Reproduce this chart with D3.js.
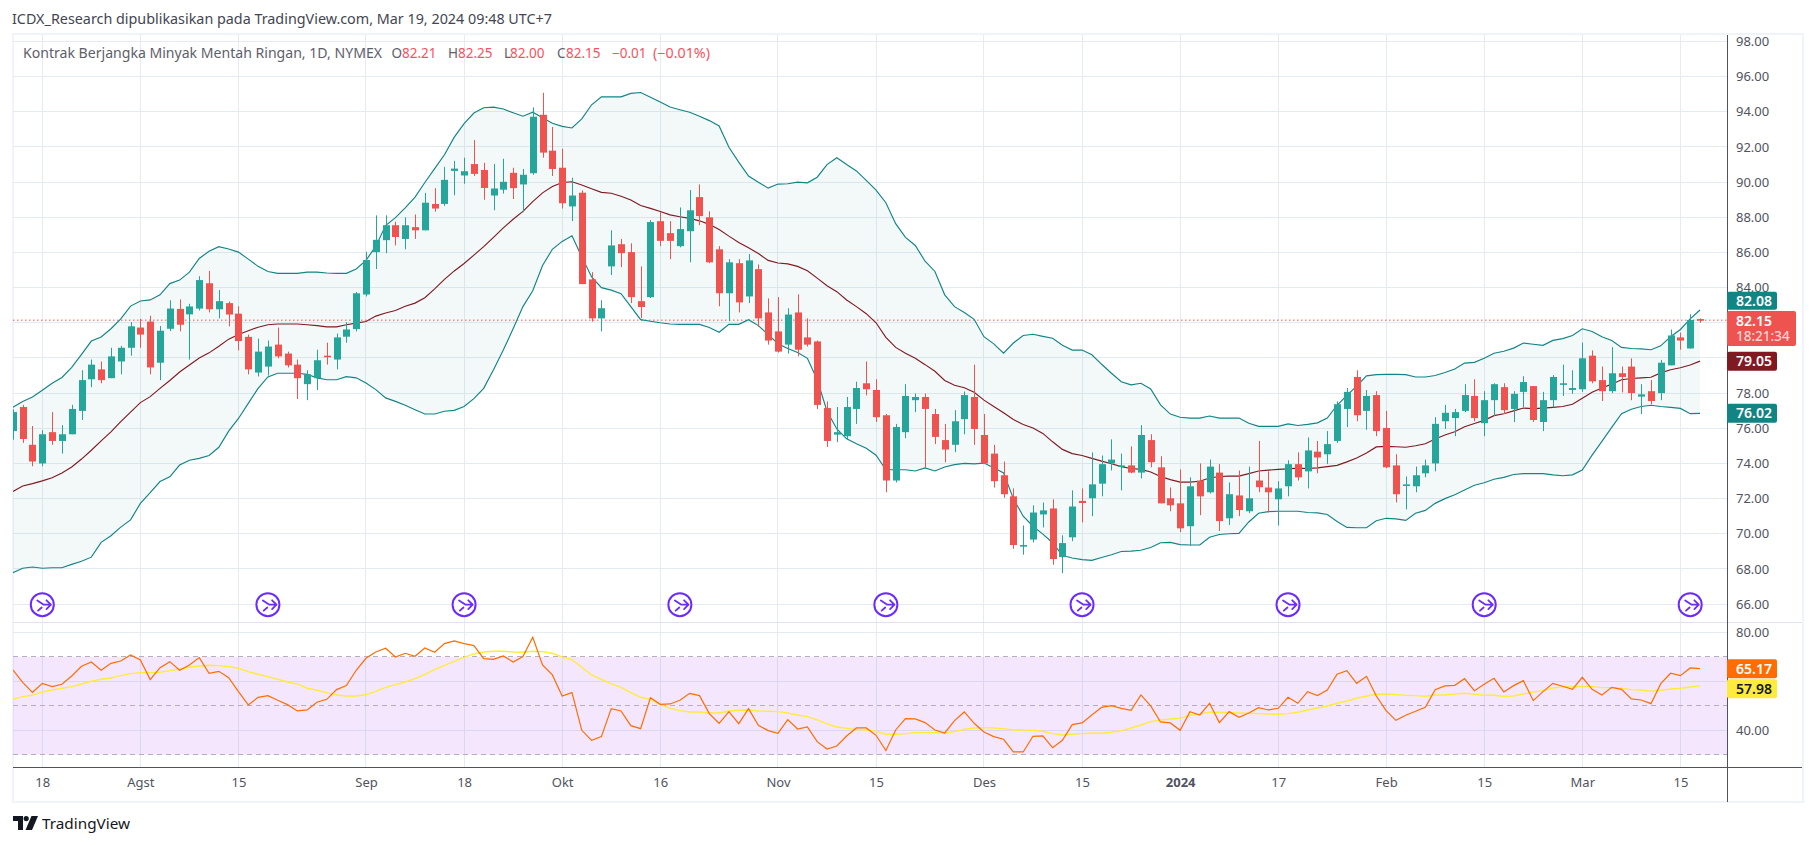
<!DOCTYPE html>
<html><head><meta charset="utf-8">
<script src="https://cdn.jsdelivr.net/npm/d3@7"></script>
<style>html,body{margin:0;padding:0;background:#fff}svg{display:block}text{font-family:"Noto Sans",sans-serif}</style>
</head><body><div id="c"></div>
<script>
const titleText="ICDX_Research dipublikasikan pada TradingView.com, Mar 19, 2024 09:48 UTC+7";
const open=[75.84,77.21,75.06,74,75.78,75.28,75.66,76.99,78.79,79.35,
78.85,79.8,80.58,81.73,82.07,79.73,81.66,82.79,82.48,82.81,
84.25,82.77,83.12,82.52,81.2,79.17,79.51,80.76,80.25,79.62,
78.51,78.85,80.13,79.91,81.21,81.64,83.61,86.02,86.7,87.55,
86.77,87.44,87.26,88.76,88.76,90.64,90.38,91.03,90.69,89.24,
89.57,90.53,89.87,90.51,93.83,91.79,90.82,88.62,89.4,84.47,
82.25,85.21,86.47,86.02,83.23,83.46,87.78,87.1,86.36,87.21,
89.15,88,86.18,83.68,85.39,83.5,85.05,82.59,81.51,80.76,
82.59,81.17,80.94,77.15,75.64,75.55,77.1,78.56,78.18,76.74,
73.03,75.78,77.6,77.78,76.81,75.33,75.06,76.52,77.78,75.62,
74.56,73.33,72.13,69.28,69.67,71.1,71.44,68.67,69.8,71.87,
72.02,72.85,74,73.84,73.89,73.48,75.33,73.78,72.02,71.73,
70.43,73.03,72.36,73.48,70.88,72.18,71.28,73.03,72.63,71.96,
72.7,73.96,73.55,74.67,74.52,75.28,77.1,78.92,76.99,77.89,
76.02,73.89,72.76,72.7,73.44,74,76.4,76.58,76.99,77.84,
76.29,77.6,78.34,77.1,78.07,78.4,76.36,77.6,78.47,78.18,
78.22,80.13,78.74,78.11,79.13,79.51,77.8,78.11,78,79.58,
81.17,80.54,82.21];
const high=[77.08,77.33,76.13,75.89,76.92,76.18,77.33,79.3,79.91,79.8,
80.58,80.69,82.04,82.22,82.4,81.82,83.28,83.33,83.08,84.65,
84.95,83.86,83.21,82.94,81.33,81.1,80.99,81.73,80.36,79.91,
79.3,80.47,80.87,81.39,82.04,83.75,86.05,88.11,88.11,87.75,
88,88.16,89.39,89.66,90.87,91.21,91.39,92.4,91.1,91.03,
91.33,90.82,90.75,94.25,95.08,93.14,91.9,90.25,89.53,84.88,
83.28,87.26,86.77,86.52,85.21,87.84,88.29,87.78,88.56,89.55,
89.87,88.34,86.36,85.62,85.62,85.91,85.32,83.39,83.46,82.83,
83.62,82.25,80.99,77.53,77.21,77.78,78.65,79.8,78.79,76.81,
76.25,78.51,77.98,77.98,77.1,76.25,77.03,78.09,79.62,76.81,
75.06,74.11,72.58,70.47,71.62,71.78,71.96,69.91,72.47,72.58,
74.63,74.45,75.37,74.56,74.97,76.18,75.66,74.41,72.63,73.66,
73.21,74,74.22,73.96,72.92,73.6,73.82,75.28,73.55,72.99,
74.18,74.63,75.48,75.28,75.84,77.53,78.29,79.3,78.18,78.11,
76.99,74.52,73.26,73.82,74.22,76.63,77.33,77.1,78.51,78.79,
78.11,78.56,78.56,78.11,78.96,78.4,78.07,79.03,79.62,79.3,
80.87,80.43,79.51,80.62,79.51,79.98,78.51,78.74,79.89,81.62,
81.44,82.49,82.25];
const low=[75.35,75.17,73.84,73.84,75.06,74.56,75.66,76.47,78.34,78.56,
78.85,79.07,80.13,80.58,79.07,78.74,81.53,81.51,79.91,82.7,
82.59,82.25,81.8,80.43,79.07,78.95,79,79.98,79.46,77.67,
77.6,78.18,79.62,79.35,80.87,81.51,83.5,85.06,85.96,86.4,
86.18,86.77,87.26,88.32,88.65,89.25,89.91,90.35,89,88.4,
89.35,89.04,88.29,90.42,91.39,90.35,88.5,87.78,84.2,82.07,
81.51,84.72,85.17,83.12,82.27,83.41,86.36,85.62,86.29,85.44,
87.55,85.39,82.94,82.09,82.59,83.12,81.77,80.76,80.31,80.25,
80.09,80.65,77.1,74.94,75.21,75.35,76.25,77.87,76.36,72.36,
72.92,75.44,76.92,73.73,75.1,74.07,74.64,75.66,75.06,73.96,
72.63,72.05,69.14,68.81,69.51,70.36,68.24,67.76,69.58,70.65,
71,72.13,73.6,72.47,73.44,73.15,73.78,71.73,71.28,70.09,
69.31,71.06,72.29,70.16,70.5,71,71.17,72.36,71.21,70.47,
72.13,73.03,72.58,73.44,73.96,75.17,76.07,76.4,75.91,75.55,
73.73,71.78,71.39,72.36,73.21,73.55,75.96,75.55,76.92,76.4,
75.55,76.7,76.81,76.36,77.21,76.36,75.84,77.19,77.84,77.96,
78.07,78.56,77.55,78,78.04,77.6,76.81,77.37,77.6,79.58,
80.47,80.54,82];
const close=[76.92,75.39,74.11,75.66,75.28,75.66,77.1,78.74,79.62,78.74,
80.09,80.58,81.8,81.33,79.46,81.55,82.81,81.89,82.93,84.43,
82.77,83.23,82.47,80.96,79.35,80.36,80.65,80.09,79.58,78.85,
79.07,79.87,80.09,81.17,81.62,83.68,85.57,86.72,87.55,86.88,
87.55,87.26,88.83,88.5,90.13,90.77,90.62,90.47,89.67,89.64,
90.02,89.66,90.42,93.72,91.68,90.75,88.8,89.24,84.2,82.25,
82.83,86.4,85.96,83.46,82.9,87.73,86.66,86.66,87.33,88.4,
88.07,85.44,83.68,85.44,83.16,85.55,82.25,80.99,80.36,82.47,
80.47,80.76,77.33,75.28,75.78,77.21,78.29,78.22,76.63,73.03,
76.07,77.84,77.78,77.1,75.51,74.79,76.4,77.89,75.96,74,
72.99,72.25,69.36,69.36,71.21,71.33,68.56,69.47,71.55,71.75,
72.81,73.96,74.22,73.89,73.48,75.62,74.07,71.73,71.62,70.31,
72.7,72.13,73.82,70.72,72.25,71.35,72.02,72.65,72.36,72.58,
73.96,73.21,74.74,74.34,75.1,77.37,78.07,76.74,77.84,75.84,
73.78,72.25,72.81,73.33,73.89,76.25,76.88,76.92,77.89,76.58,
77.6,78.51,77.03,77.96,78.63,76.47,77.6,78.92,78.56,78.29,
79.98,78.67,78.11,79.13,78.92,78,77.93,77.55,79.73,81.28,
80.99,82.16,82.15];
const bbUpper=[77.2,77.53,77.78,78.16,78.56,78.89,79.46,80.2,80.96,81.19,
81.66,82.22,82.95,83.24,83.3,83.59,84.23,84.43,84.88,85.66,
86.07,86.33,86.2,86.02,85.62,85.21,84.92,84.81,84.81,84.81,
84.88,84.88,84.83,84.81,84.81,85.06,85.55,86.36,87.53,87.98,
88.54,89.15,89.98,90.77,91.56,92.56,93.33,93.93,94.23,94.27,
94.16,93.95,93.75,93.98,93.66,93.35,93.17,93.08,93.6,94.4,
94.85,94.85,94.85,95.05,95.1,94.83,94.56,94.27,94.12,93.98,
93.75,93.5,93.2,91.98,91.14,90.35,90,89.66,89.89,89.91,
90,89.96,90.28,91,91.39,91,90.64,90.1,89.55,88.83,
87.64,86.86,86.4,85.5,84.92,83.59,82.92,82.59,82.2,81.21,
80.8,80.27,80.85,81.28,81.35,81.23,81.12,80.72,80.45,80.45,
80.18,79.64,79.13,78.65,78.47,78.56,78.24,77.33,76.81,76.63,
76.58,76.58,76.7,76.58,76.58,76.58,76.29,76.11,76.11,76.11,
76.25,76.16,76.22,76.31,76.58,77.31,77.87,78.4,78.98,79.05,
79.07,79.07,79.05,78.92,78.92,79,79.17,79.37,79.71,79.75,
79.98,80.27,80.38,80.56,80.85,80.78,80.72,81,81.1,81.28,
81.66,81.51,81.21,80.99,80.6,80.54,80.52,80.47,80.69,81.21,
81.62,82.22,82.73];
const bbBasis=[72.41,72.72,72.85,73.01,73.19,73.46,73.8,74.25,74.75,75.28,
75.8,76.38,76.92,77.46,77.8,78.27,78.72,79.2,79.6,80,
80.29,80.67,81.07,81.33,81.55,81.75,81.89,81.93,81.93,81.93,
81.89,81.84,81.77,81.77,81.89,81.98,82.07,82.38,82.56,82.7,
82.94,83.12,83.43,83.93,84.47,84.95,85.37,85.85,86.33,86.86,
87.4,87.89,88.34,88.89,89.39,89.75,89.98,90.02,89.84,89.62,
89.42,89.37,89.2,88.98,88.67,88.51,88.33,88.14,88.03,87.94,
87.8,87.6,87.31,86.93,86.57,86.27,85.94,85.55,85.4,85.35,
85.21,84.96,84.54,84.11,83.77,83.3,82.92,82.52,82,81.17,
80.6,80.27,79.98,79.62,79.24,78.72,78.45,78.31,78.05,77.6,
77.24,76.88,76.5,76.22,76.02,75.71,75.23,74.8,74.56,74.45,
74.29,74.13,73.98,73.82,73.71,73.66,73.51,73.26,73.08,72.94,
72.94,72.99,73.17,73.26,73.28,73.28,73.42,73.57,73.62,73.66,
73.69,73.73,73.71,73.75,73.82,73.89,74.09,74.31,74.59,74.94,
74.97,74.95,74.92,75.01,75.12,75.39,75.62,75.8,76.09,76.27,
76.45,76.72,76.83,76.99,77.15,77.12,77.15,77.19,77.24,77.37,
77.71,78.05,78.29,78.51,78.76,78.83,78.87,78.9,79.15,79.33,
79.44,79.6,79.82];
const bbLower=[67.78,68.04,68.11,68.04,68.07,68.07,68.26,68.44,68.67,69.51,
69.89,70.38,70.79,71.73,72.34,72.97,73.24,73.91,74.18,74.29,
74.45,74.92,75.84,76.56,77.42,78.27,78.92,79.13,79.13,79.13,
79.07,78.87,78.76,78.76,78.94,78.87,78.58,78.2,77.73,77.53,
77.31,77.06,76.81,76.81,76.97,77.02,77.24,77.69,78.27,79.33,
80.45,81.66,82.92,83.82,85.26,86.18,86.63,86.95,85.75,84.61,
84,83.86,83.66,82.92,82.18,82.09,82,81.93,81.91,81.91,
81.91,81.73,81.46,81.91,81.91,82.18,81.84,81.33,80.81,80.54,
80.31,79.98,78.76,76.97,75.96,75.4,75.12,74.86,74.47,73.64,
73.64,73.64,73.57,73.75,73.57,73.8,73.93,74,73.98,74.02,
73.75,73.46,72,71,70.43,69.98,69.49,68.76,68.62,68.53,
68.49,68.65,68.81,68.99,69.01,69.06,69.22,69.49,69.51,69.38,
69.36,69.36,69.8,69.96,70,70.02,70.67,71.17,71.26,71.28,
71.28,71.28,71.21,71.19,71.1,70.7,70.36,70.34,70.34,70.74,
70.88,70.85,70.76,71.17,71.33,71.73,72,72.22,72.49,72.76,
72.9,73.1,73.21,73.37,73.42,73.42,73.42,73.35,73.3,73.35,
73.62,74.47,75.26,76.05,76.83,77.08,77.24,77.31,77.24,77.19,
77.13,76.83,76.85];
const rsiValues=[64.63,59.59,55.51,59.18,57.82,58.78,62.18,66.12,67.89,64.49,
67.35,68.3,70.75,68.71,60.68,65.58,68.03,64.49,66.67,69.66,
63.27,64.08,61.5,55.78,50.34,53.47,54.15,52.24,50.48,47.89,
48.3,51.43,52.65,56.6,58.23,64.49,69.39,71.97,73.47,69.93,
71.43,70.2,73.61,71.84,75.37,76.46,75.37,74.56,69.25,68.98,
70.34,67.89,70.07,77.96,66.67,62.59,54.01,55.37,40,35.92,
37.41,48.84,47.89,41.9,40.68,53.33,50.61,50.75,52.24,55.1,
54.15,46.8,42.86,47.62,42.72,48.84,42.04,39.86,38.78,44.35,
40.54,41.36,35.37,32.38,33.61,37.69,40.95,40.95,37.96,31.7,
40.14,44.76,44.63,43.13,40.14,38.91,43.95,47.48,42.86,39.32,
37.41,36.33,31.16,31.16,37.55,37.69,32.93,35.92,42.31,43,
46.26,49.39,50.07,48.98,48.16,54.42,49.93,43.4,43,40,
47.62,46.26,51.02,43.13,47.62,45.31,47.07,49.25,48.3,48.98,
53.47,51.02,55.78,54.15,56.46,62.86,64.35,59.18,62.04,54.01,
48.03,44.08,46.12,47.76,49.39,56.6,58.1,58.37,61.09,56.19,
58.78,61.22,55.65,58.23,60.27,52.11,55.78,59.18,57.96,56.73,
61.63,56.73,54.42,57.55,56.73,52.79,52.38,50.88,59.05,63.27,
62.31,65.44,65.17];
const rsiMA=[52.65,53.74,54.29,55.65,56.46,57.14,57.82,58.91,60,60.82,
61.36,62.31,63.13,63.54,63.54,63.67,64.35,64.9,65.71,66.26,
66.53,66.39,65.99,65.31,63.95,62.86,61.9,60.82,59.73,58.91,
57.14,56.33,55.37,54.42,54.01,54.01,54.56,55.92,57.55,58.64,
59.73,61.09,62.86,64.76,66.53,68.16,69.8,71.16,71.97,72.24,
72.24,71.97,71.84,72.24,72.11,71.43,69.93,68.84,65.71,62.59,
60.82,58.91,57.55,55.37,53.47,52.65,50.61,48.98,48.03,47.48,
47.48,47.07,47.07,47.89,48.16,48.3,47.89,47.76,47.62,47.07,
46.26,45.58,44.22,42.59,41.36,40.82,40.27,40.14,39.59,38.37,
38.37,38.64,39.05,39.05,39.05,38.78,39.46,40.41,40.95,41.09,
40.95,40.68,40.14,40.14,40,39.59,38.64,38.1,38.37,38.64,
38.78,38.78,39.18,39.86,40.95,42.18,43.54,44.22,44.63,44.9,
46.12,46.67,47.35,47.35,47.21,47.07,46.94,46.8,46.67,46.53,
46.8,47.35,48.3,49.12,49.93,51.02,51.97,53.06,54.01,54.69,
54.83,54.56,54.29,54.15,53.88,54.42,54.42,54.83,55.1,54.69,
54.29,54.29,53.88,54.01,54.83,55.65,56.19,57.28,57.82,57.69,
57.96,57.82,57.41,57.41,57.14,56.6,56.46,55.92,56.33,56.87,
57.14,57.69,58.23];
const priceTicks=[66,68,70,72,74,76,78,80,82,84,86,88,90,92,94,96,98];
const priceLabelTicks=[66,68,70,72,74,76,78,84,86,88,90,92,94,96,98];
const rsiGrid=[80,60,40];
const rsiLabelTicks=[80,40];
const rsiLevels=[70,50,30];
const timeTickIndex=[3,13,23,36,46,56,66,78,88,99,109,119,129,140,150,160,170];
const timeTickLabels=["18","Agst","15","Sep","18","Okt","16","Nov","15","Des","15","2024","17","Feb","15","Mar","15"];
const eventIndex=[3,26,46,68,89,109,130,150,171];
const lastPrice=82.15;

const W=1815,H=846,L=13,AX=1727,RE=1802,PT=35,PB=622,XA=767,FB=802;
const svg=d3.select("#c").append("svg").attr("width",W).attr("height",H).attr("viewBox",`0 0 ${W} ${H}`);
const x=d3.scaleLinear().domain([3,172]).range([42.3,1700]);
const y=d3.scaleLinear().domain([98,66]).range([41.5,604.1]);
const ry=d3.scaleLinear().domain([80,40]).range([632.3,730.3]);
const defs=svg.append("defs");
defs.append("clipPath").attr("id","cp").append("rect").attr("x",L).attr("y",PT).attr("width",AX-L).attr("height",PB-PT);
defs.append("clipPath").attr("id","cr").append("rect").attr("x",L).attr("y",PB).attr("width",AX-L).attr("height",XA-PB);
const idx=d3.range(open.length);
const GRID="#e4ecf2";
// frame
const frame=svg.append("g");
frame.append("rect").attr("x",12).attr("y",33).attr("width",1792).attr("height",2).attr("fill","#f0f3fa");
frame.append("rect").attr("x",12).attr("y",33).attr("width",2).attr("height",770).attr("fill","#f0f3fa");
frame.append("rect").attr("x",12).attr("y",801).attr("width",1792).attr("height",2).attr("fill","#f0f3fa");
frame.append("rect").attr("x",1802).attr("y",33).attr("width",2).attr("height",770).attr("fill","#f0f3fa");
// grids
const grid=svg.append("g").attr("shape-rendering","crispEdges");
grid.selectAll(".h").data(priceTicks).join("line").attr("x1",L).attr("x2",AX).attr("y1",d=>y(d)).attr("y2",d=>y(d)).attr("stroke",GRID);
grid.selectAll(".r").data(rsiGrid).join("line").attr("x1",L).attr("x2",AX).attr("y1",d=>ry(d)).attr("y2",d=>ry(d)).attr("stroke",GRID);
grid.selectAll(".v").data(timeTickIndex).join("line").attr("x1",d=>x(d)).attr("x2",d=>x(d)).attr("y1",PT).attr("y2",XA).attr("stroke",GRID);
// RSI band over grid
svg.append("rect").attr("x",L).attr("width",AX-L).attr("y",ry(70)).attr("height",ry(30)-ry(70)).attr("fill","rgba(150,25,235,0.105)");
svg.append("g").selectAll("line").data(rsiLevels).join("line").attr("x1",L).attr("x2",AX).attr("y1",d=>ry(d)).attr("y2",d=>ry(d))
 .attr("stroke","#b4aebd").attr("stroke-dasharray","5 4").attr("shape-rendering","crispEdges");
// price pane
const pane=svg.append("g").attr("clip-path","url(#cp)");
pane.append("path").datum(idx).attr("fill","rgba(19,132,132,0.05)")
 .attr("d",d3.area().x(i=>x(i)).y0(i=>y(bbLower[i])).y1(i=>y(bbUpper[i])));
pane.append("line").attr("x1",L).attr("x2",AX).attr("y1",y(lastPrice)).attr("y2",y(lastPrice))
 .attr("stroke","#ef5350").attr("stroke-dasharray","1.5 2.5");
const line=a=>d3.line().x(i=>x(i)).y(i=>y(a[i]));
pane.append("path").datum(idx).attr("fill","none").attr("stroke","#801922").attr("stroke-width",1.15).attr("d",line(bbBasis));
pane.append("path").datum(idx).attr("fill","none").attr("stroke","#138484").attr("stroke-width",1.15).attr("d",line(bbUpper));
pane.append("path").datum(idx).attr("fill","none").attr("stroke","#138484").attr("stroke-width",1.15).attr("d",line(bbLower));
const col=i=>close[i]>=open[i]?"#26a69a":"#ef5350";
const candles=pane.append("g");
candles.selectAll(".w").data(idx).join("line").attr("x1",i=>Math.round(x(i))+.5).attr("x2",i=>Math.round(x(i))+.5)
 .attr("y1",i=>y(high[i])).attr("y2",i=>y(low[i])).attr("stroke",col);
candles.selectAll(".b").data(idx).join("rect").attr("x",i=>Math.round(x(i))-3).attr("width",7)
 .attr("y",i=>y(Math.max(open[i],close[i]))).attr("height",i=>Math.max(1.6,Math.abs(y(open[i])-y(close[i])))).attr("fill",col);
// events
const ev=svg.append("g").selectAll("g").data(eventIndex).join("g").attr("transform",i=>`translate(${x(i)},604.7)`);
ev.append("circle").attr("r",11.5).attr("fill","#fff").attr("stroke","#6b2bff").attr("stroke-width",2);
ev.append("path").attr("d","M-5,-4.2 L1.5,0 L8.6,0 M4.2,-4.4 L8.6,0 L4.2,4.4 M-4.2,6 L-0.6,2.8").attr("fill","none").attr("stroke","#6b2bff").attr("stroke-width",1.8).attr("stroke-linecap","round").attr("stroke-linejoin","round");
// RSI
const rp=svg.append("g").attr("clip-path","url(#cr)");
rp.append("path").datum(idx).attr("fill","none").attr("stroke","#ffeb3b").attr("stroke-width",1.4).attr("d",d3.line().x(i=>x(i)).y(i=>ry(rsiMA[i])));
rp.append("path").datum(idx).attr("fill","none").attr("stroke","#ff6d00").attr("stroke-width",1.2).attr("d",d3.line().x(i=>x(i)).y(i=>ry(rsiValues[i])));
// separators
const sep=svg.append("g").attr("shape-rendering","crispEdges");
sep.append("line").attr("x1",L).attr("x2",RE).attr("y1",PB).attr("y2",PB).attr("stroke","#e0e3eb");
sep.append("line").attr("x1",L).attr("x2",RE).attr("y1",XA).attr("y2",XA).attr("stroke","#50535e");
sep.append("line").attr("x1",AX).attr("x2",AX).attr("y1",PT).attr("y2",FB).attr("stroke","#50535e");
// axes
function styleAxis(g){g.select(".domain").remove();g.selectAll(".tick line").remove();g.selectAll("text").attr("fill","#50535e").style("font-size","13px").style("font-family",'"Noto Sans",sans-serif');}
svg.append("g").attr("transform",`translate(${AX},0)`).call(d3.axisRight(y).tickValues(priceLabelTicks).tickFormat(d3.format(".2f")).tickSize(0).tickPadding(9)).call(styleAxis);
svg.append("g").attr("transform",`translate(${AX},0)`).call(d3.axisRight(ry).tickValues(rsiLabelTicks).tickFormat(d3.format(".2f")).tickSize(0).tickPadding(9)).call(styleAxis);
const xa=svg.append("g").attr("transform",`translate(0,${XA})`).call(d3.axisBottom(x).tickValues(timeTickIndex).tickFormat((d,i)=>timeTickLabels[i]).tickSize(0).tickPadding(11)).call(styleAxis);
xa.selectAll("text").style("font-weight",(d,i)=>timeTickLabels[i]==="2024"?"700":"400");
// axis value labels
function tag(cy,w,h,bg,fg,txt){
 svg.append("rect").attr("x",AX).attr("y",cy-h/2).attr("width",w).attr("height",h).attr("rx",2).attr("fill",bg);
 svg.append("text").attr("x",AX+9).attr("y",cy).attr("dy","0.35em").attr("fill",fg).style("font-size","14px").style("font-weight","600").text(txt);
}
const last=open.length-1;
tag(y(bbUpper[last])-9.3,50,18,"#138484","#fff","82.08");
svg.append("rect").attr("x",AX).attr("y",311).attr("width",69).attr("height",35).attr("rx",2).attr("fill","#ef5350");
svg.append("text").attr("x",AX+9).attr("y",321).attr("dy","0.35em").attr("fill","#fff").style("font-size","14px").style("font-weight","600").text(d3.format(".2f")(lastPrice));
svg.append("text").attr("x",AX+9).attr("y",336.5).attr("dy","0.35em").attr("fill","#fcd5d4").style("font-size","13.5px").style("font-weight","500").text("18:21:34");
tag(y(bbBasis[last]),50,19,"#801922","#fff","79.05");
tag(y(bbLower[last]),50,19,"#138484","#fff","76.02");
tag(ry(65.17),50,19,"#ff6d00","#fff","65.17");
tag(ry(57.98)+2.4,50,19,"#ffeb3b","#131722","57.98");
// header
svg.append("text").attr("x",12).attr("y",24).attr("fill","#434651").attr("textLength",540).attr("lengthAdjust","spacingAndGlyphs").style("font-size","14px").text(titleText);
const GR="#5d606b",RD="#f7525f";
const legend=[["Kontrak Berjangka Minyak Mentah Ringan, 1D, NYMEX",23,359,GR],["O",391.5,0,GR],["82.21",402,0,RD],["H",448,0,GR],["82.25",458,0,RD],["L",504,0,GR],["82.00",510,0,RD],["C",557,0,GR],["82.15",566,0,RD],["\u22120.01",612,0,RD],["(\u22120.01%)",653,57,RD]];
legend.forEach(d=>{const t=svg.append("text").attr("x",d[1]).attr("y",58).attr("fill",d[3]).style("font-size","13.5px").text(d[0]);
 if(d[2])t.attr("textLength",d[2]).attr("lengthAdjust","spacingAndGlyphs");});
// logo
const logo=svg.append("g").attr("transform","translate(13,816)").attr("fill","#131722");
logo.append("path").attr("d","M0,0H10V10.5H5V5H0Z");
logo.append("circle").attr("cx",13.2).attr("cy",2.6).attr("r",2.6);
logo.append("path").attr("d","M18.5,0H25L19,14H12.5Z");
logo.append("path").attr("d","M5,5H10V14H5Z");
svg.append("text").attr("x",42).attr("y",829).attr("fill","#131722").attr("textLength",88).attr("lengthAdjust","spacingAndGlyphs").style("font-size","15px").text("TradingView");
</script></body></html>
